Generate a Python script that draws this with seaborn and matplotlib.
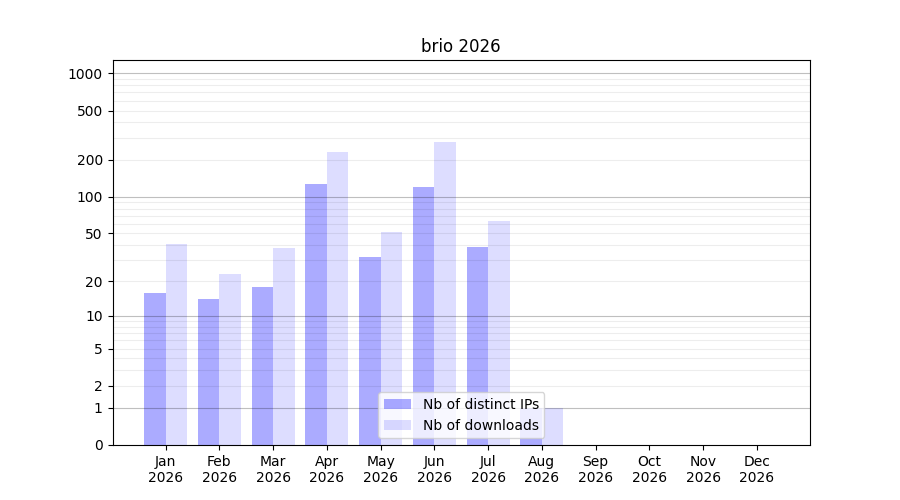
import numpy as np
import pandas as pd
import matplotlib
matplotlib.use("Agg")
import matplotlib.pyplot as plt
import seaborn as sns

# monthly stats
months = ["Jan", "Feb", "Mar", "Apr", "May", "Jun", "Jul", "Aug", "Sep", "Oct", "Nov", "Dec"]
year = "2026"
distinct_ips = [16, 14, 18, 126, 32, 120, 39, 1, 0, 0, 0, 0]
downloads = [41, 23, 38, 230, 51, 278, 63, 1, 0, 0, 0, 0]
series_names = ["Nb of distinct IPs", "Nb of downloads"]
ytick_vals = [0, 1, 2, 5, 10, 20, 50, 100, 200, 500, 1000]

labels = [m + "\n" + year for m in months]
df = pd.DataFrame({
    "month": labels * 2,
    "value": distinct_ips + downloads,
    "series": [series_names[0]] * 12 + [series_names[1]] * 12,
})

fig, ax = plt.subplots(figsize=(9, 5), dpi=100)

palette = {series_names[0]: (0, 0, 1, 0.33), series_names[1]: (0, 0, 1, 0.135)}
sns.barplot(data=df, x="month", y="value", hue="series", order=labels,
            hue_order=series_names, palette=palette, width=0.8, ax=ax,
            saturation=1, legend=True)

# log(1+x) scale so that zero fits at the bottom
ax.set_yscale("function", functions=(lambda v: np.log10(1 + np.clip(v, 0, None)),
                                     lambda v: 10 ** v - 1))
ax.set_ylim(0, 1280)
ax.set_xlim(-0.99, 11.99)
ax.set_yticks(ytick_vals)
ax.set_yticklabels([str(v) for v in ytick_vals])

# grid: darker at decades, faint in between
for dec in [1, 10, 100]:
    for k in range(2, 10):
        ax.axhline(k * dec, color="k", alpha=0.07, lw=0.8, zorder=3)
for dec in [1, 10, 100, 1000]:
    ax.axhline(dec, color="k", alpha=0.25, lw=0.8, zorder=3)

ax.set_xlabel("")
ax.set_ylabel("")
ax.set_title("brio " + year)
ax.legend(loc="lower center")

fig.savefig("out.png", dpi=100)
